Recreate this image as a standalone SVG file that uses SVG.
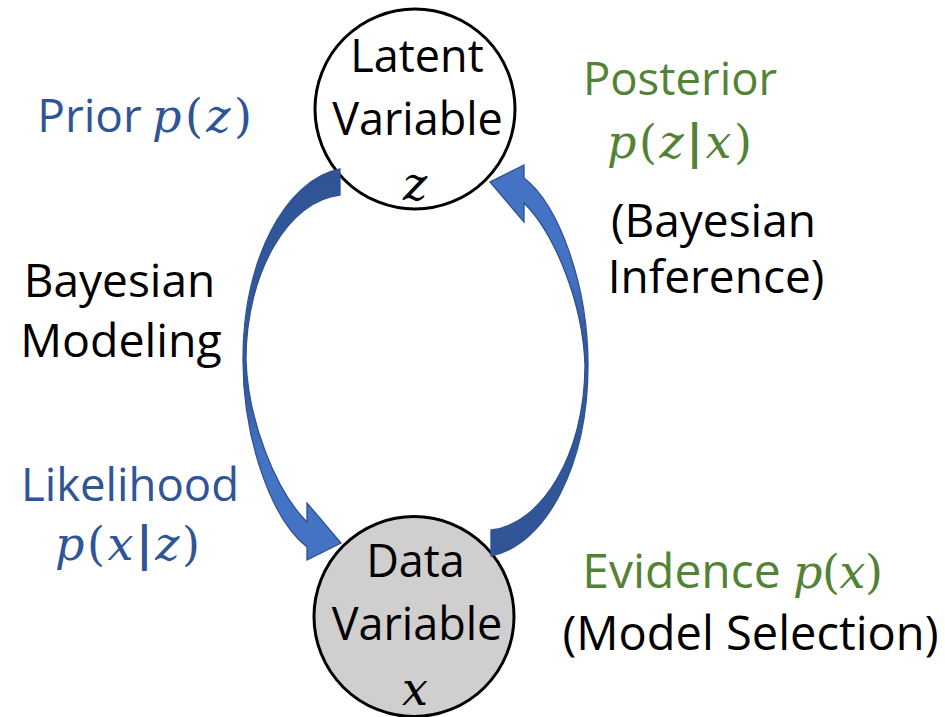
<svg xmlns="http://www.w3.org/2000/svg" width="945" height="717" viewBox="0 0 945 717">
<style>
.t{font-family:"Open Sans","Liberation Sans",sans-serif;font-size:45px;text-anchor:middle}
.m{font-family:"DejaVu Serif","Liberation Serif",serif;font-size:46px;text-anchor:middle}
.i{font-style:italic}
.b{font-weight:bold}
.blk{fill:#000}
.blu{fill:#2F5597}
.grn{fill:#548235}
.node{stroke:#000;stroke-width:3}
.arrow{stroke:#2F528F;stroke-width:1.3;stroke-linejoin:miter}
</style>
<defs>
<linearGradient id="shade" gradientUnits="userSpaceOnUse" x1="0" y1="169" x2="0" y2="560">
<stop offset="0" stop-color="#2F5597"/>
<stop offset="0.56" stop-color="#3359A0"/>
<stop offset="0.72" stop-color="#4472C4"/>
<stop offset="1" stop-color="#4472C4"/>
</linearGradient>
</defs>
<rect width="945" height="717" fill="#fff"/>
<g id="latent">
<circle class="node" cx="415" cy="109" r="100" fill="#fff"/>
<text class="t blk" x="417" y="72">Latent</text>
<text class="t blk" x="417.5" y="135">Variable</text>
<text class="m i blk" x="415" y="200">z</text>
</g>
<g id="data">
<circle class="node" cx="414" cy="616.5" r="100" fill="#D0CECE"/>
<text class="t blk" x="415.5" y="577">Data</text>
<text class="t blk" x="417" y="640">Variable</text>
<text class="m i blk" x="415" y="705">x</text>
</g>
<g id="connectors">
<path id="modeling-arrow" class="arrow" fill="url(#shade)" d="M340,169 C285,180 243,260 243,360 C243,440 272,520 307,547 L307,560 L341,543 L307,503 L307,522 C275,490 248,420 246,360 C246,270 290,200 340,195 Z"/>
<path id="inference-arrow" class="arrow" fill="url(#shade)" transform="rotate(180 415.5 362.5)" d="M340,169 C285,180 243,260 243,360 C243,440 272,520 307,547 L307,560 L341,543 L307,503 L307,522 C275,490 248,420 246,360 C246,270 290,200 340,195 Z"/>
</g>
<g id="labels-left">
<text class="t blu" x="89.5" y="132" style="font-size:46px">Prior</text>
<text class="m blu" x="202" y="132" textLength="100" lengthAdjust="spacing"><tspan class="i">p</tspan>(<tspan class="i">z</tspan>)</text>
<text class="t blk" x="119.5" y="297" style="font-size:46px">Bayesian</text>
<text class="t blk" x="121" y="357" style="font-size:46.5px">Modeling</text>
<text class="t blu" x="130" y="501" style="font-size:45.5px">Likelihood</text>
<text class="m blu" x="127.5" y="560" textLength="145" lengthAdjust="spacing"><tspan class="i">p</tspan>(<tspan class="i">x</tspan><tspan class="b">|</tspan><tspan class="i">z</tspan>)</text>
</g>
<g id="labels-right">
<text class="t grn" x="680" y="95" style="font-size:45.5px">Posterior</text>
<text class="m grn" x="679.5" y="158" textLength="145" lengthAdjust="spacing"><tspan class="i">p</tspan>(<tspan class="i">z</tspan><tspan class="b">|</tspan><tspan class="i">x</tspan>)</text>
<text class="t blk" x="713.5" y="237" style="font-size:46px">(Bayesian</text>
<text class="t blk" x="716" y="293" style="font-size:46px">Inference)</text>
<text class="t grn" x="681.5" y="588" style="font-size:48px">Evidence</text>
<text class="m grn" x="838" y="588" textLength="90" lengthAdjust="spacing"><tspan class="i">p</tspan>(<tspan class="i">x</tspan>)</text>
<text class="t blk" x="750.5" y="650" style="font-size:47px">(Model Selection)</text>
</g>
</svg>
